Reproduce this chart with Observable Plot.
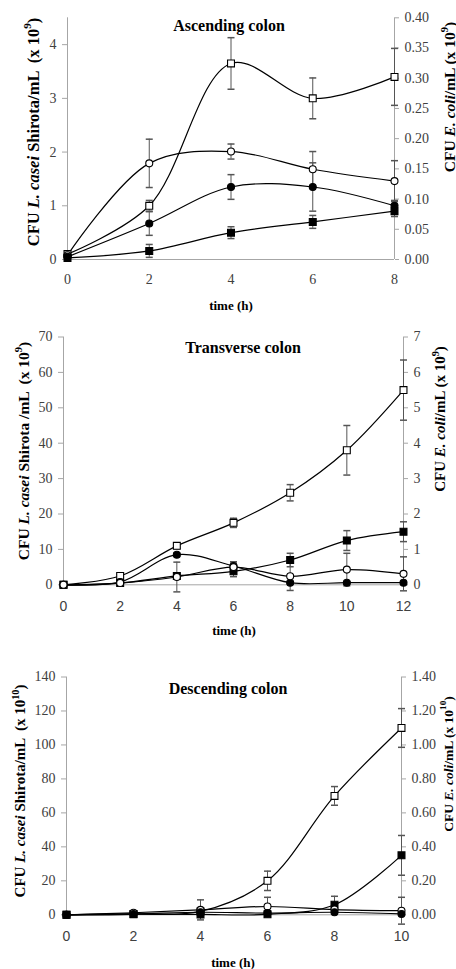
<!DOCTYPE html>
<html><head><meta charset="utf-8">
<script src="https://cdn.jsdelivr.net/npm/d3@7"></script>
<script src="https://cdn.jsdelivr.net/npm/@observablehq/plot@0.6"></script>
<style>
body{margin:0;background:#fff;}
#wrap{position:relative;width:456px;height:969px;overflow:hidden;background:#fff;}
#wrap svg{position:absolute;left:0;overflow:visible;background:none;}
</style></head><body><div id="wrap"></div>
<script>
// ---------- Ascending colon (values in left-axis units, x 10^9) ----------
const ascTime = [0, 2, 4, 6, 8];
const ascOpenSquare = [0.1, 1.0, 3.65, 3.0, 3.4];
const ascOpenSquareErr = [0, 0.1, 0.48, 0.38, 0.53];
const ascOpenCircle = [0.08, 1.79, 2.01, 1.68, 1.46];
const ascOpenCircleErr = [0, 0.45, 0.14, 0.33, 0.38];
const ascFilledCircle = [0.05, 0.67, 1.35, 1.35, 1.0];
const ascFilledCircleErr = [0, 0.22, 0.23, 0.45, 0.1];
const ascFilledSquare = [0.03, 0.16, 0.5, 0.7, 0.9];
const ascFilledSquareErr = [0, 0.12, 0.11, 0.12, 0.1];
const ascLeftTicks = [0, 1, 2, 3, 4];
const ascRightTicks = [0, 0.05, 0.10, 0.15, 0.20, 0.25, 0.30, 0.35, 0.40];

// ---------- Transverse colon (left units, x 10^9) ----------
const trTime = [0, 2, 4, 6, 8, 10, 12];
const trOpenSquare = [0, 2.5, 11, 17.5, 26, 38, 55];
const trOpenSquareErr = [0, 0.5, 0.8, 1.3, 2.3, 7, 8.5];
const trFilledSquare = [0, 0.5, 2.5, 3.8, 7, 12.5, 15];
const trFilledSquareErr = [0, 0.3, 0.5, 1.5, 1.9, 2.8, 2.8];
const trFilledCircle = [0, 0.8, 8.5, 5.3, 0.6, 0.6, 0.6];
const trFilledCircleErr = [0, 0.3, 0.5, 1.2, 0.3, 0.3, 0.3];
const trOpenCircle = [0, 0.5, 2.2, 5.0, 2.4, 4.3, 3.1];
const trOpenCircleErr = [0, 0.3, 4.2, 1.5, 4.0, 4.6, 4.8];
const trLeftTicks = [0, 10, 20, 30, 40, 50, 60, 70];
const trRightTicks = [0, 1, 2, 3, 4, 5, 6, 7];

// ---------- Descending colon (left units, x 10^10) ----------
const deTime = [0, 2, 4, 6, 8, 10];
const deOpenSquare = [0, 0.3, 2, 20, 70, 110];
const deOpenSquareErr = [0, 0.3, 1, 5.7, 5.5, 11.4];
const deFilledSquare = [0, 0.5, 0.2, 0.3, 5.9, 35];
const deFilledSquareErr = [0, 0.3, 0.3, 0.3, 5, 11.7];
const deOpenCircle = [0, 1.2, 2.9, 4.9, 3.1, 2.4];
const deOpenCircleErr = [0, 0.5, 5.9, 5.4, 2, 7.9];
const deFilledCircle = [0, 0.5, 1.5, 1.0, 1.5, 0.5];
const deFilledCircleErr = [0, 0.3, 0.5, 0.5, 0.5, 0.3];
const deLeftTicks = [0, 20, 40, 60, 80, 100, 120, 140];
const deRightTicks = [0, 0.2, 0.4, 0.6, 0.8, 1.0, 1.2, 1.4];

const SERIF = "'Liberation Serif','Times New Roman',serif";
const SANS = "'Liberation Sans',Arial,sans-serif";
const AXIS_GRAY = "#a6a6a6";
const TEXT_GRAY = "#404040";
const ERR_GRAY = "#555";

const styles = {
  openSquare: {symbol: "square", fill: "white", r: 3.9},
  openCircle: {symbol: "circle", fill: "white", r: 3.5},
  filledCircle: {symbol: "circle", fill: "black", r: 3.5},
  filledSquare: {symbol: "square", fill: "black", r: 3.9}
};

const capSymbol = {draw(ctx) { ctx.moveTo(-3.5, 0); ctx.lineTo(3.5, 0); }};

const panels = [
  {
    top: 0, height: 315, marginTop: 17.3, marginBottom: 56, marginLeft: 67, marginRight: 62,
    time: ascTime, xMax: 8, yMax: 4.5, factor: 11.25,
    leftTicks: ascLeftTicks, rightTicks: ascRightTicks, rightFmt: d => d.toFixed(2),
    xFont: SERIF, xFontSize: 14, xPad: 15,
    series: [
      {key: "openSquare", v: ascOpenSquare, e: ascOpenSquareErr},
      {key: "openCircle", v: ascOpenCircle, e: ascOpenCircleErr},
      {key: "filledCircle", v: ascFilledCircle, e: ascFilledCircleErr},
      {key: "filledSquare", v: ascFilledSquare, e: ascFilledSquareErr}
    ],
    title: {text: "Ascending colon", x: 229, y: 25, size: 16},
    xLabel: {x: 231, y: 305},
    leftLabel: {x: 33, y: 132, size: 16.5, parts: [{t: "CFU "}, {t: "L. casei", i: true}, {t: " Shirota/mL  (x 10"}, {t: "9", sup: true}, {t: ")"}]},
    rightLabel: {x: 449, y: 97, size: 15.5, parts: [{t: "CFU "}, {t: "E. coli", i: true}, {t: "/mL (x 10"}, {t: "9", sup: true}, {t: ")"}]}
  },
  {
    top: 315, height: 320, marginTop: 21.5, marginBottom: 50.7, marginLeft: 63, marginRight: 53,
    time: trTime, xMax: 12, yMax: 70, factor: 10,
    leftTicks: trLeftTicks, rightTicks: trRightTicks, rightFmt: d => d.toFixed(0),
    xFont: SANS, xFontSize: 14, xPad: 16,
    series: [
      {key: "openSquare", v: trOpenSquare, e: trOpenSquareErr},
      {key: "filledSquare", v: trFilledSquare, e: trFilledSquareErr},
      {key: "filledCircle", v: trFilledCircle, e: trFilledCircleErr},
      {key: "openCircle", v: trOpenCircle, e: trOpenCircleErr}
    ],
    title: {text: "Transverse colon", x: 243, y: 32, size: 16},
    xLabel: {x: 234, y: 315},
    leftLabel: {x: 23, y: 136, size: 15.5, parts: [{t: "CFU "}, {t: "L. casei", i: true}, {t: " Shirota /mL  (x 10"}, {t: "9", sup: true}, {t: ")"}]},
    rightLabel: {x: 440, y: 104, size: 15, parts: [{t: "CFU "}, {t: "E. coli", i: true}, {t: "/mL (x 10"}, {t: "9", sup: true}, {t: ")"}]}
  },
  {
    top: 635, height: 334, marginTop: 41.5, marginBottom: 54.7, marginLeft: 66, marginRight: 55,
    time: deTime, xMax: 10, yMax: 140, factor: 100,
    leftTicks: deLeftTicks, rightTicks: deRightTicks, rightFmt: d => d.toFixed(2),
    xFont: SANS, xFontSize: 14, xPad: 16,
    series: [
      {key: "openSquare", v: deOpenSquare, e: deOpenSquareErr},
      {key: "filledSquare", v: deFilledSquare, e: deFilledSquareErr},
      {key: "openCircle", v: deOpenCircle, e: deOpenCircleErr},
      {key: "filledCircle", v: deFilledCircle, e: deFilledCircleErr}
    ],
    title: {text: "Descending colon", x: 228, y: 53, size: 16},
    xLabel: {x: 233, y: 327},
    leftLabel: {x: 20, y: 156, size: 15, parts: [{t: "CFU "}, {t: "L. casei", i: true}, {t: " Shirota/mL  (x 10"}, {t: "10", sup: true}, {t: ")"}]},
    rightLabel: {x: 448, y: 129, size: 13.5, parts: [{t: "CFU "}, {t: "E. coli", i: true}, {t: "/mL (x 10"}, {t: "10", sup: true}, {t: ")"}]}
  }
];

function addText(svg, lab, rotate) {
  const t = svg.append("text")
    .attr("text-anchor", "middle")
    .attr("font-family", SERIF)
    .attr("font-weight", "bold")
    .attr("font-size", lab.size)
    .attr("fill", "#000")
    .attr("dominant-baseline", "central")
    .attr("transform", `translate(${lab.x},${lab.y})` + (rotate ? " rotate(-90)" : ""));
  const parts = lab.parts || [{t: lab.text}];
  let shift = 0;
  parts.forEach(p => {
    const ts = t.append("tspan").text(p.t);
    if (p.i) ts.attr("font-style", "italic");
    if (p.sup) {
      ts.attr("font-size", lab.size * 0.68).attr("dy", -lab.size * 0.35);
      shift = lab.size * 0.35;
    } else if (shift) {
      ts.attr("dy", shift);
      shift = 0;
    }
  });
}

const wrap = document.getElementById("wrap");

panels.forEach(cfg => {
  const rows = [];
  cfg.series.forEach(s => s.v.forEach((v, i) => rows.push({s: s.key, t: cfg.time[i], v, e: s.e[i]})));
  const errRows = rows.filter(r => r.e > 0);

  const marks = [
    Plot.ruleY([0], {stroke: AXIS_GRAY}),
    Plot.ruleX([0, cfg.xMax], {y1: 0, y2: cfg.yMax, stroke: AXIS_GRAY}),
    Plot.axisY({anchor: "left", ticks: cfg.leftTicks, tickSize: 5, tickPadding: 6, label: null,
      tickFormat: d => String(d),
      stroke: AXIS_GRAY, fill: TEXT_GRAY, fontSize: 14}),
    Plot.axisY({anchor: "right", ticks: cfg.rightTicks.map(d => d * cfg.factor), tickSize: 4, tickPadding: 6, label: null,
      tickFormat: d => cfg.rightFmt(d / cfg.factor),
      stroke: AXIS_GRAY, fill: TEXT_GRAY, fontSize: 14}),
    Plot.axisX({ticks: cfg.time, tickSize: 0, tickPadding: cfg.xPad, label: null,
      tickFormat: d => String(d),
      fill: TEXT_GRAY, fontSize: cfg.xFontSize}),
    Plot.ruleX(errRows, {x: "t", y1: r => r.v - r.e, y2: r => r.v + r.e, stroke: ERR_GRAY, strokeWidth: 1}),
    Plot.dot(errRows, {x: "t", y: r => r.v + r.e, symbol: capSymbol, stroke: ERR_GRAY, fill: "none", r: 1}),
    Plot.dot(errRows, {x: "t", y: r => r.v - r.e, symbol: capSymbol, stroke: ERR_GRAY, fill: "none", r: 1}),
    ...cfg.series.map(s => Plot.line(rows.filter(r => r.s === s.key),
      {x: "t", y: "v", curve: "catmull-rom", stroke: "black", strokeWidth: 1.2})),
    ...cfg.series.map(s => Plot.dot(rows.filter(r => r.s === s.key),
      {x: "t", y: "v", symbol: styles[s.key].symbol, fill: styles[s.key].fill, stroke: "black", strokeWidth: 1.1, r: styles[s.key].r}))
  ];

  const el = Plot.plot({
    width: 456, height: cfg.height,
    marginTop: cfg.marginTop, marginBottom: cfg.marginBottom,
    marginLeft: cfg.marginLeft, marginRight: cfg.marginRight,
    x: {domain: [0, cfg.xMax]},
    y: {domain: [0, cfg.yMax]},
    style: {background: "none", overflow: "visible", fontFamily: SERIF, fontSize: "14px"},
    marks
  });
  el.style.top = cfg.top + "px";
  wrap.appendChild(el);
  const svg = d3.select(el);
  svg.selectAll('g[aria-label="y-axis tick label"]').attr("font-family", SERIF).attr("font-size", 14);
  svg.selectAll('g[aria-label="x-axis tick label"]').attr("font-family", cfg.xFont).attr("font-size", cfg.xFontSize);
  addText(svg, cfg.title, false);
  addText(svg, {text: "time (h)", x: cfg.xLabel.x, y: cfg.xLabel.y, size: 13}, false);
  addText(svg, cfg.leftLabel, true);
  addText(svg, cfg.rightLabel, true);
});
</script>
</body></html>
